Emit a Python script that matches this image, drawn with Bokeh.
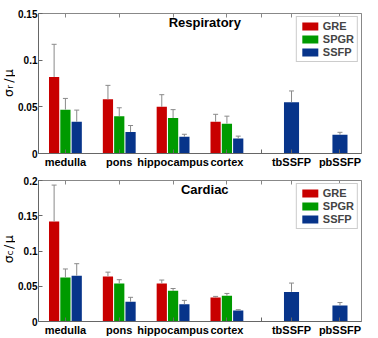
from math import pi
from bokeh.plotting import figure
from bokeh.models import (ColumnDataSource, Whisker, TeeHead, Label, FixedTicker,
                          Legend, LegendItem, Range1d, LinearAxis)
from bokeh.core.properties import value
from bokeh.layouts import column, row
from bokeh.embed import file_html
from bokeh.resources import INLINE

# ---- data ----
categories = ["medulla", "pons", "hippocampus", "cortex", "tbSSFP", "pbSSFP"]
series = ["GRE", "SPGR", "SSFP"]

resp_gre = [0.082, 0.058, 0.050, 0.034]
resp_gre_err = [0.035, 0.015, 0.013, 0.008]
resp_spgr = [0.047, 0.040, 0.038, 0.032]
resp_spgr_err = [0.012, 0.009, 0.009, 0.008]
resp_ssfp = [0.034, 0.023, 0.018, 0.016, 0.055, 0.020]
resp_ssfp_err = [0.0125, 0.007, 0.0026, 0.0026, 0.012, 0.0027]

card_gre = [0.142, 0.064, 0.054, 0.034]
card_gre_err = [0.0515, 0.006, 0.0048, 0.0016]
card_spgr = [0.0625, 0.054, 0.0435, 0.0366]
card_spgr_err = [0.012, 0.0053, 0.0033, 0.0032]
card_ssfp = [0.065, 0.028, 0.0245, 0.0157, 0.042, 0.0227]
card_ssfp_err = [0.017, 0.0063, 0.0055, 0.001, 0.0125, 0.0042]

resp_yticks = [0, 0.05, 0.1, 0.15]
resp_ylabels = ["0", "0.05", "0.1", "0.15"]
card_yticks = [0, 0.05, 0.1, 0.15, 0.2]
card_ylabels = ["0", "0.05", "0.1", "0.15", "0.2"]

# ---- layout constants ----
cat_pos = [1, 2, 3, 4, 5.2, 6.1]
sep_tick = 4.65
offset = 0.21
bw = 0.19
bw_single = 0.28
colors = {"GRE": "#C80000", "SPGR": "#009A00", "SSFP": "#07348A"}
FONT = "Liberation Sans"
LW = 15      # width of the y-label strip
PW = 362 - LW
BL = 20      # left border of the plot


def ylabel_strip(sub, height, btop, bbot):
    f = figure(width=LW, height=height, output_backend="svg", toolbar_location=None,
               x_range=Range1d(0, LW), y_range=Range1d(0, height),
               x_axis_location=None, y_axis_location=None,
               min_border_left=0, min_border_right=0, min_border_top=0, min_border_bottom=0)
    f.grid.visible = False
    f.outline_line_color = None
    frame_h = height - btop - bbot
    yc = bbot + frame_h / 2
    common = dict(angle=pi / 2, text_align="center", text_baseline="middle",
                  text_font=value("DejaVu Sans"), text_color="black")
    f.text(x=[7.5], y=[yc - 12], text=["σ"], text_font_size="12.5px", **common)
    f.text(x=[9.7], y=[yc - 4.5], text=[sub], text_font_size="9px", **common)
    f.text(x=[7.5], y=[yc + 3], text=["/"], text_font_size="12.5px", **common)
    f.text(x=[7.5], y=[yc + 12], text=["μ"], text_font_size="12.5px", **common)
    return f


def panel(title, gre, gre_err, spgr, spgr_err, ssfp, ssfp_err,
          ymax, yticks, ylabels, height, btop, bbot):
    p = figure(width=PW, height=height, output_backend="svg", toolbar_location=None,
               x_range=Range1d(0.5, 6.5), y_range=Range1d(0, ymax),
               min_border_left=BL, min_border_right=1,
               min_border_top=btop, min_border_bottom=bbot)
    p.xgrid.visible = False
    p.ygrid.visible = False
    p.outline_line_color = "#888888"

    n = len(gre)
    xs = {
        "GRE": [cat_pos[i] - offset for i in range(n)],
        "SPGR": [cat_pos[i] for i in range(n)],
        "SSFP": [cat_pos[i] + offset for i in range(n)] + cat_pos[n:],
    }
    ws = {
        "GRE": [bw] * n,
        "SPGR": [bw] * n,
        "SSFP": [bw] * n + [bw_single] * (len(ssfp) - n),
    }
    vals = {"GRE": gre, "SPGR": spgr, "SSFP": ssfp}
    errs = {"GRE": gre_err, "SPGR": spgr_err, "SSFP": ssfp_err}

    items = []
    for s in series:
        src = ColumnDataSource(dict(
            x=xs[s], top=vals[s], w=ws[s],
            upper=[v + e for v, e in zip(vals[s], errs[s])]))
        r = p.vbar(x="x", top="top", width="w", source=src,
                   fill_color=colors[s], line_color=None)
        wk = Whisker(source=src, base="x", lower="top", upper="upper",
                     dimension="height", line_color="#8a8a8a", line_width=1,
                     lower_head=None,
                     upper_head=TeeHead(size=5, line_color="#8a8a8a", line_width=1),
                     level="annotation")
        p.add_layout(wk)
        items.append(LegendItem(label=s, renderers=[r]))

    legend = Legend(items=items, location="top_right",
                    glyph_width=20, glyph_height=10, label_height=11,
                    spacing=1, padding=3, margin=3, label_standoff=3,
                    label_text_font=FONT, label_text_font_style="bold",
                    label_text_font_size="11px",
                    border_line_color="#999999", border_line_width=1,
                    background_fill_alpha=1.0)
    p.add_layout(legend)

    # x axis
    xa = p.xaxis[0]
    xa.ticker = FixedTicker(ticks=cat_pos, minor_ticks=[sep_tick])
    xa.major_label_overrides = {pos: name for pos, name in zip(cat_pos, categories)}
    xa.major_tick_in = 4
    xa.major_tick_out = 0
    xa.minor_tick_in = 4
    xa.minor_tick_out = 0
    xa.major_label_standoff = 2
    xa.major_label_text_font = FONT
    xa.major_label_text_font_style = "bold"
    xa.major_label_text_font_size = "11px"
    xa.major_label_text_color = "black"
    xa.axis_line_color = "#666666"
    xa.major_tick_line_color = "#666666"
    xa.minor_tick_line_color = "#666666"

    # top ticks (box)
    ta = LinearAxis(ticker=FixedTicker(ticks=[], minor_ticks=cat_pos + [sep_tick]),
                    major_tick_in=0, major_tick_out=0,
                    minor_tick_in=4, minor_tick_out=0, major_label_standoff=0,
                    axis_line_color="#888888", minor_tick_line_color="#888888")
    p.add_layout(ta, "above")

    # y axis
    ya = p.yaxis[0]
    ya.ticker = FixedTicker(ticks=yticks)
    ya.major_label_overrides = {t: l for t, l in zip(yticks, ylabels)}
    ya.major_tick_in = 4
    ya.major_tick_out = 0
    ya.minor_tick_line_color = None
    ya.major_label_standoff = 1
    ya.major_label_text_font = FONT
    ya.major_label_text_font_style = "bold"
    ya.major_label_text_font_size = "10px"
    ya.major_label_text_color = "black"
    ya.axis_line_color = "#666666"
    ya.major_tick_line_color = "#666666"

    frame_h = height - btop - bbot
    frame_w = PW - BL - 1

    # title inside the frame
    p.add_layout(Label(x=frame_w * 0.51, y=frame_h - 12, x_units="screen", y_units="screen",
                       text=title, text_align="center", text_baseline="middle",
                       text_font=FONT, text_font_style="bold", text_font_size="13px",
                       text_color="black"))
    return p


H1, T1, B1 = 170, 13, 14
H2, T2, B2 = 168, 10, 14
p1 = panel("Respiratory", resp_gre, resp_gre_err, resp_spgr, resp_spgr_err,
           resp_ssfp, resp_ssfp_err, 0.15, resp_yticks, resp_ylabels, H1, T1, B1)
p2 = panel("Cardiac", card_gre, card_gre_err, card_spgr, card_spgr_err,
           card_ssfp, card_ssfp_err, 0.2, card_yticks, card_ylabels, H2, T2, B2)
l1 = ylabel_strip("r", H1, T1, B1)
l2 = ylabel_strip("c", H2, T2, B2)

layout = column(row(l1, p1, spacing=0), row(l2, p2, spacing=0), spacing=0)
open("out.html", "w").write(file_html(layout, INLINE))
